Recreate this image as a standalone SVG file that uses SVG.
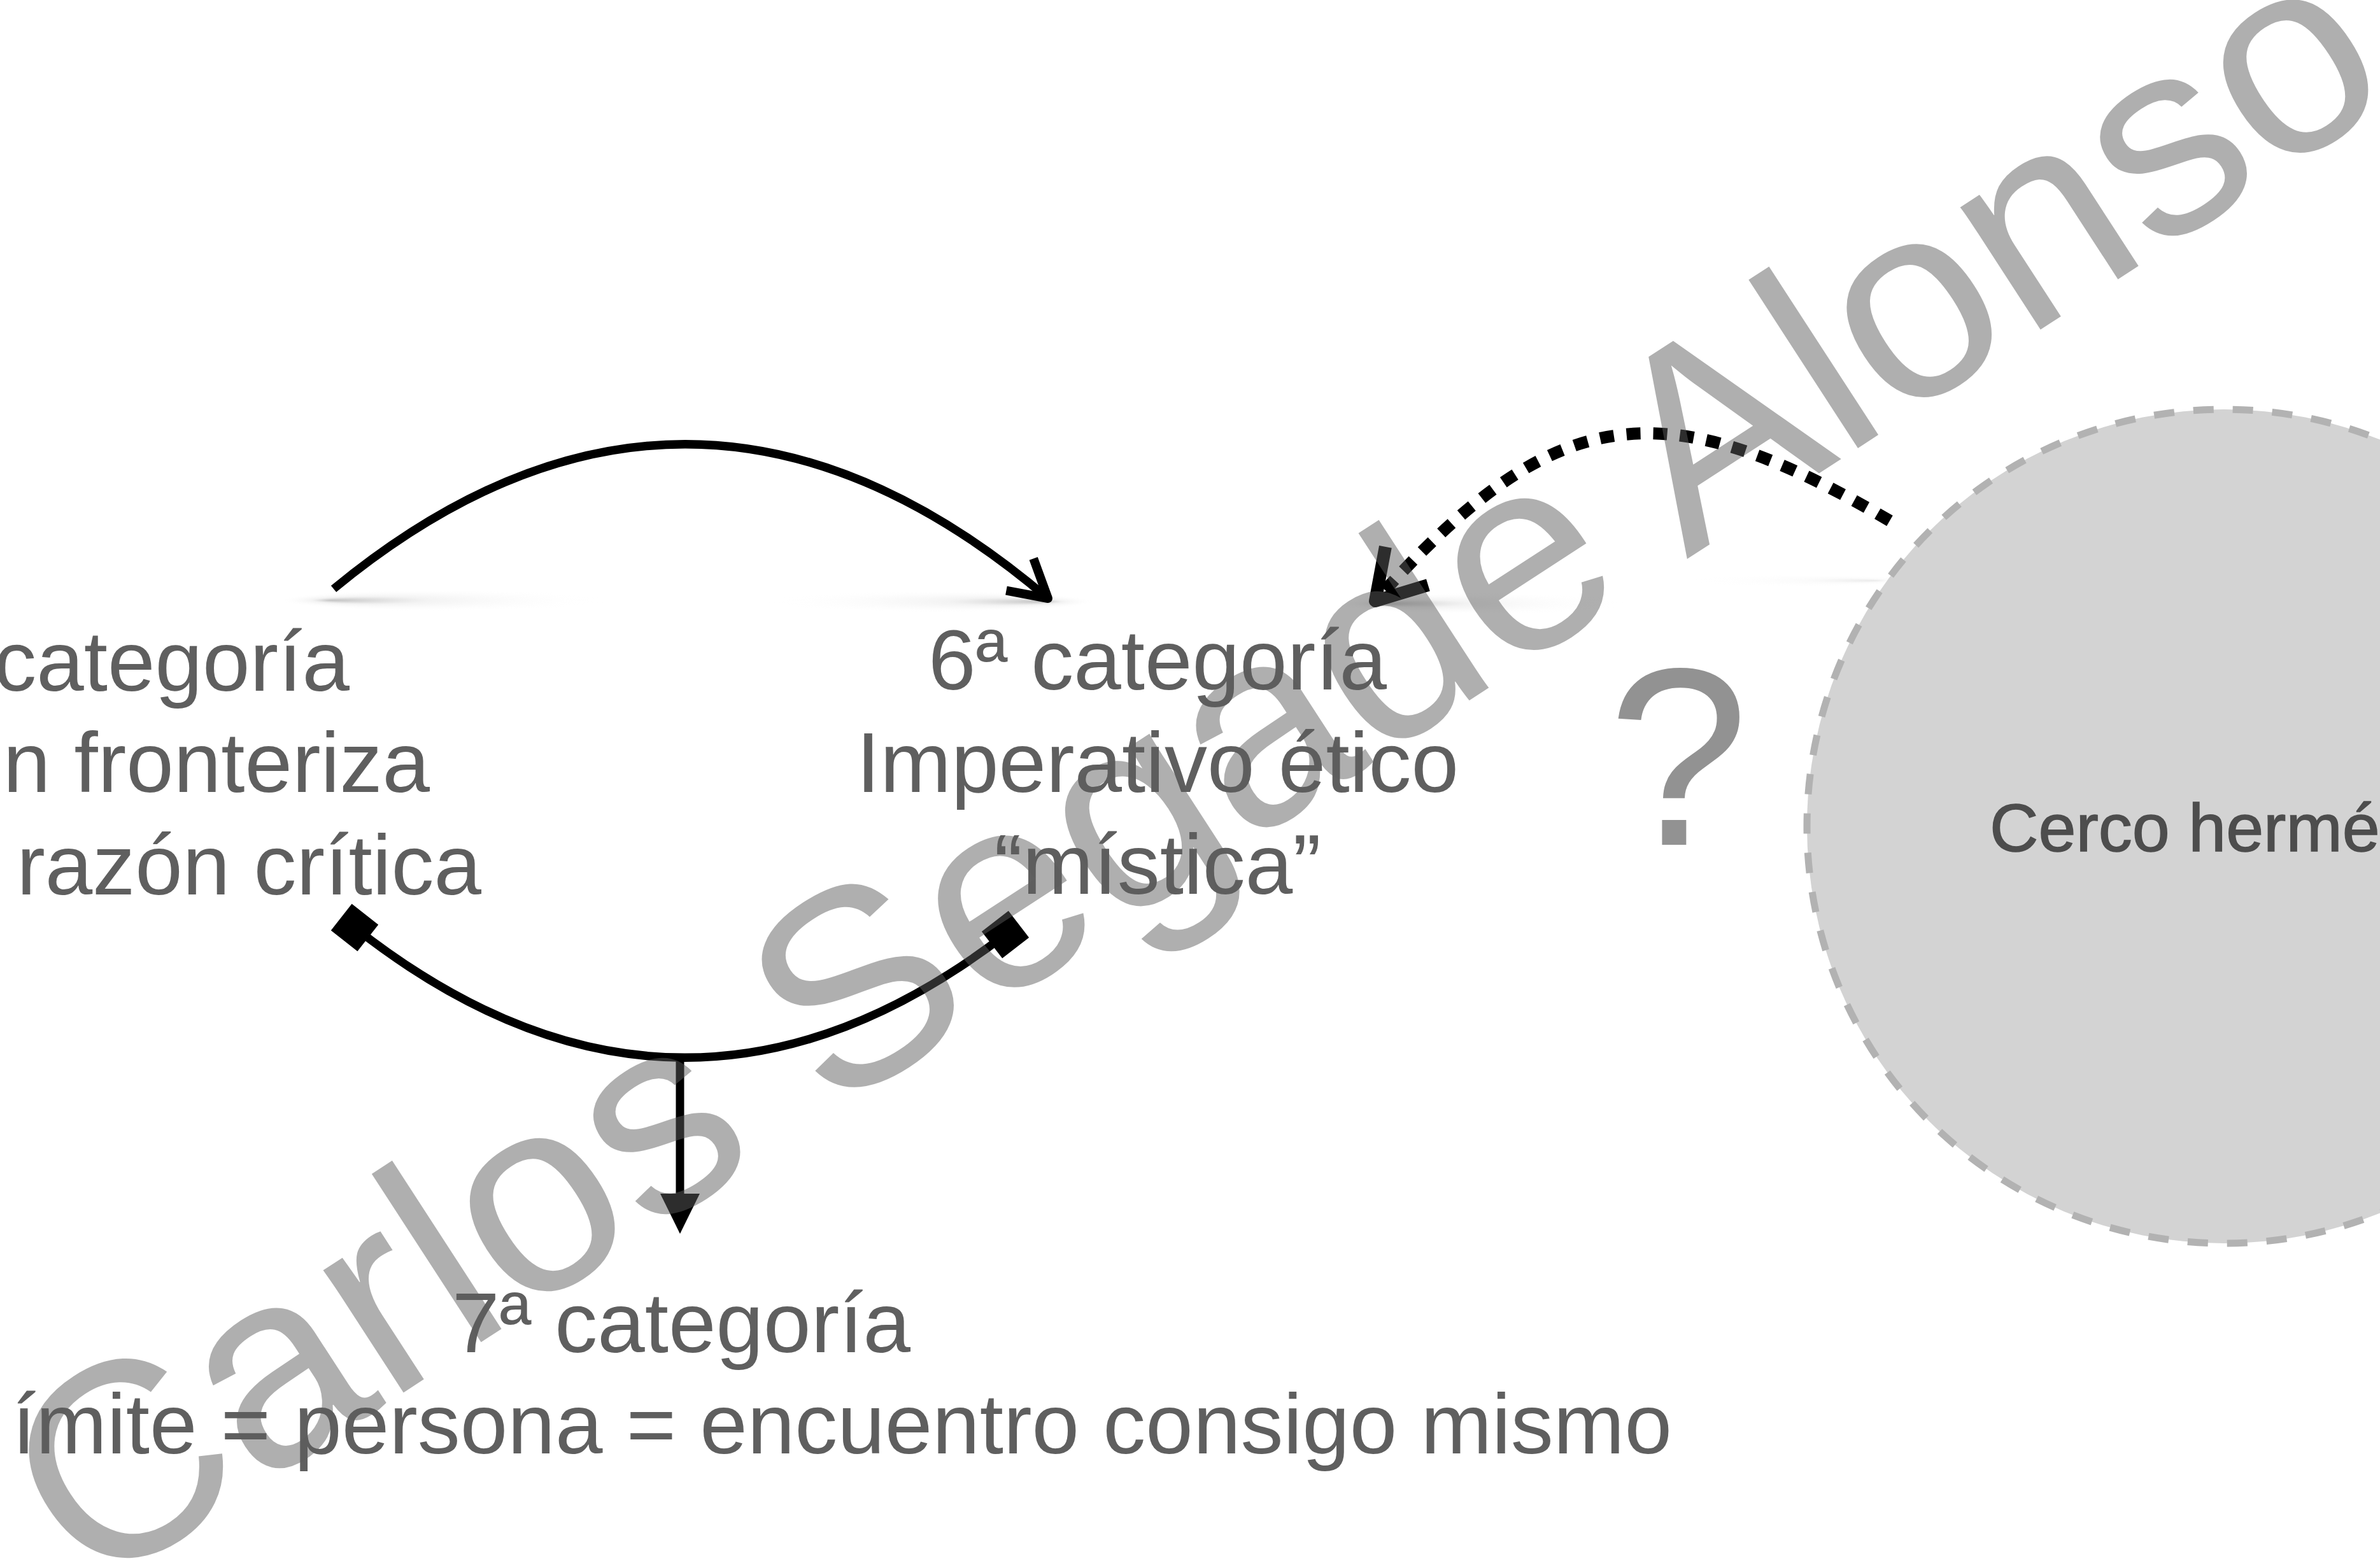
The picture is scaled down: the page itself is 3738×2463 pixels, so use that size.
<svg xmlns="http://www.w3.org/2000/svg" width="3738" height="2463" viewBox="0 0 3738 2463">
<style>
.cat{font-family:"Liberation Sans",Arial,sans-serif;font-size:134px;fill:#5f5f5f}
.conn{fill:none;stroke:#000;stroke-width:13}
.wm{font-family:"Liberation Sans",Arial,sans-serif;font-size:435px;fill:#5c5c5c;fill-opacity:0.49}
</style>
<defs>
<marker id="openArrow" markerUnits="userSpaceOnUse" markerWidth="200" markerHeight="200" refX="0" refY="0" orient="auto" overflow="visible" viewBox="-100 -100 200 200">
<path d="M-58,-33 L0,0 L-58,33" fill="none" stroke="#000" stroke-width="14" stroke-linejoin="round"/>
</marker>
<marker id="openArrowBig" markerUnits="userSpaceOnUse" markerWidth="240" markerHeight="240" refX="0" refY="0" orient="auto" overflow="visible" viewBox="-120 -120 240 240">
<path d="M-74,-45 L0,0 L-74,45" fill="none" stroke="#000" stroke-width="20" stroke-linejoin="round"/>
</marker>
<marker id="square" markerUnits="userSpaceOnUse" markerWidth="100" markerHeight="100" refX="0" refY="0" orient="auto" overflow="visible" viewBox="-50 -50 100 100">
<rect x="-26.5" y="-26.5" width="53" height="53" fill="#000"/>
</marker>
<marker id="triangle" markerUnits="userSpaceOnUse" markerWidth="160" markerHeight="160" refX="0" refY="0" orient="auto" overflow="visible" viewBox="-80 -80 160 160">
<path d="M0,-31 L63,0 L0,31 Z" fill="#000"/>
</marker>
<radialGradient id="shL" cx="0.5" cy="0.5" r="0.5" fx="0.15" fy="0.5">
<stop offset="0" stop-color="#7a7a7a" stop-opacity="0.45"/>
<stop offset="0.35" stop-color="#b0b0b0" stop-opacity="0.15"/>
<stop offset="1" stop-color="#ffffff" stop-opacity="0"/>
</radialGradient>
<radialGradient id="shR" cx="0.5" cy="0.5" r="0.5" fx="0.85" fy="0.5">
<stop offset="0" stop-color="#7a7a7a" stop-opacity="0.45"/>
<stop offset="0.35" stop-color="#b0b0b0" stop-opacity="0.15"/>
<stop offset="1" stop-color="#ffffff" stop-opacity="0"/>
</radialGradient>
</defs>
<rect x="0" y="0" width="3738" height="2463" fill="#ffffff"/>

<g id="shadows">
<ellipse cx="700" cy="943" rx="260" ry="17" fill="url(#shL)"/>
<ellipse cx="1460" cy="945" rx="260" ry="17" fill="url(#shR)"/>
<ellipse cx="2330" cy="948" rx="230" ry="17" fill="url(#shL)"/>
<ellipse cx="2820" cy="912" rx="180" ry="10" fill="url(#shR)" opacity="0.35"/>
</g>

<g id="node-cerco">
<circle cx="3493" cy="1298" r="655" fill="#d3d3d3" stroke="#b2b2b2" stroke-width="11" stroke-dasharray="32 30"/>
<text x="3125" y="1337" font-family="Liberation Sans,Arial,sans-serif" font-size="106" fill="#4d4d4d" stroke="#4d4d4d" stroke-width="1.5">Cerco hermético</text>
</g>

<g id="node-5">
<text class="cat" x="549" y="1085" text-anchor="end">categoría</text>
<text class="cat" x="675" y="1244" text-anchor="end">ón fronteriza</text>
<text class="cat" x="756" y="1405" text-anchor="end">razón crítica</text>
</g>

<g id="node-6">
<text class="cat" x="1818" y="1083" text-anchor="middle">6ª categoría</text>
<text class="cat" x="1818" y="1244" text-anchor="middle">Imperativo ético</text>
<text class="cat" x="1818" y="1404" text-anchor="middle">“mística”</text>
</g>

<g id="node-7">
<text class="cat" x="1070" y="2124" text-anchor="middle">7ª categoría</text>
<text class="cat" x="2626" y="2283" text-anchor="end">ímite = persona = encuentro consigo mismo</text>
</g>

<g id="node-question">
<text x="2636" y="1327" text-anchor="middle" font-family="Liberation Sans,Arial,sans-serif" font-size="398" fill="#929292">?</text>
</g>

<g id="connectors">
<path class="conn" d="M524,925 Q1085,463 1646,940" marker-end="url(#openArrow)"/>
<path class="conn" d="M557,1457 Q1069,1860 1579,1468" marker-start="url(#square)" marker-end="url(#square)"/>
<path class="conn" d="M1068,1661 L1068,1875" marker-end="url(#triangle)"/>
<path d="M2968,818 C2606,606 2439,633 2160,944" fill="none" stroke="#000" stroke-width="19" stroke-dasharray="22 20" marker-end="url(#openArrowBig)"/>
</g>

<g id="watermark">
<text class="wm" x="140" y="2508" transform="rotate(-33 140 2508)" textLength="4328" lengthAdjust="spacing">Carlos Segade Alonso</text>
</g>
</svg>
